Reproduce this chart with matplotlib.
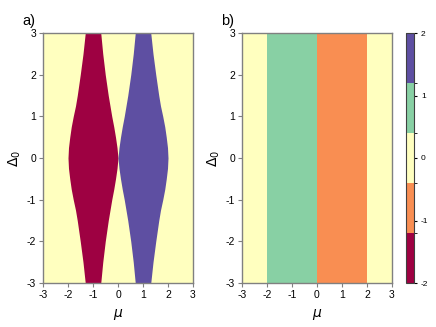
import matplotlib
matplotlib.use("Agg")
import matplotlib.pyplot as plt
from matplotlib.colors import ListedColormap, BoundaryNorm
import matplotlib.cm as cm
import numpy as np

plt.rcParams['font.family'] = ['Liberation Sans', 'DejaVu Sans']
plt.rcParams['axes.unicode_minus'] = False
plt.rcParams['mathtext.fontset'] = 'dejavusans'

# ---- data ----
phase_colors = ['#9e0142', '#f98e52', '#ffffbf', '#88d0a4', '#5e4fa2']
phase_values = [-2, -1, 0, 1, 2]
cbar_bounds = [-2, -1.2, -0.4, 0.4, 1.2, 2]

# panel a: boundaries of the winding -2 (red) and +2 (purple) regions vs Delta0
delta_a = [-3, -2.5, -2, -1.5, -1.25, -1, -0.75, -0.5, -0.25, 0,
           0.25, 0.5, 0.75, 1, 1.25, 1.5, 2, 2.5, 3]
red_left = [-1.31, -1.40, -1.51, -1.63, -1.70, -1.79, -1.87, -1.93, -1.98, -2.0,
            -1.98, -1.93, -1.87, -1.79, -1.70, -1.63, -1.51, -1.40, -1.31]
red_right = [-0.69, -0.61, -0.51, -0.39, -0.32, -0.25, -0.17, -0.10, -0.04, 0.0,
             -0.04, -0.10, -0.17, -0.25, -0.32, -0.39, -0.51, -0.61, -0.69]
purple_left = [0.69, 0.61, 0.51, 0.39, 0.32, 0.25, 0.17, 0.10, 0.04, 0.0,
               0.04, 0.10, 0.17, 0.25, 0.32, 0.39, 0.51, 0.61, 0.69]
purple_right = [1.31, 1.40, 1.51, 1.63, 1.70, 1.79, 1.87, 1.93, 1.98, 2.0,
                1.98, 1.93, 1.87, 1.79, 1.70, 1.63, 1.51, 1.40, 1.31]

# panel b: vertical bands in mu
band_edges = [-3, -2, 0, 2, 3]
band_values = [0, 1, -1, 0]

ticks = [-3, -2, -1, 0, 1, 2, 3]

cmap = ListedColormap(phase_colors)
norm = BoundaryNorm(cbar_bounds, cmap.N)
col = dict(zip(phase_values, phase_colors))

fig = plt.figure(figsize=(4.36, 3.27), dpi=100)
W, H = 436, 327
def ax_rect(l, t, r, b):
    return [l / W, 1 - b / H, (r - l) / W, (b - t) / H]

axa = fig.add_axes(ax_rect(43, 33, 193, 283))
axb = fig.add_axes(ax_rect(242, 33, 392, 283))
cax = fig.add_axes(ax_rect(406, 33, 414, 283))

# panel a
axa.set_facecolor(col[0])
axa.fill_betweenx(delta_a, red_left, red_right, color=col[-2], lw=0)
axa.fill_betweenx(delta_a, purple_left, purple_right, color=col[2], lw=0)

# panel b
for i, v in enumerate(band_values):
    axb.axvspan(band_edges[i], band_edges[i + 1], color=col[v], lw=0)

spine_col = '#808080'
for ax, lab, lx in [(axa, 'a)', 22), (axb, 'b)', 221)]:
    ax.set_xlim(-3, 3)
    ax.set_ylim(-3, 3)
    ax.set_xticks(ticks)
    ax.set_yticks(ticks)
    ax.tick_params(labelsize=7.5, length=3, width=0.8, color=spine_col, pad=2)
    for s in ax.spines.values():
        s.set_color(spine_col)
        s.set_linewidth(1.0)
    ax.set_xlabel(r'$\mu$', fontsize=10, labelpad=5)
    ax.set_ylabel(r'$\Delta_0$', fontsize=10, labelpad=3)
    fig.text(lx / W, 1 - 25 / H, lab, fontsize=10.5, va='baseline', ha='left')

sm = cm.ScalarMappable(cmap=cmap, norm=norm)
cb = fig.colorbar(sm, cax=cax, ticks=phase_values, boundaries=cbar_bounds)
cb.ax.tick_params(labelsize=6, length=2.5, width=0.8, pad=2.5)
cb.outline.set_edgecolor('#404040')
cb.outline.set_linewidth(0.8)

fig.savefig('out.png', dpi=100)
